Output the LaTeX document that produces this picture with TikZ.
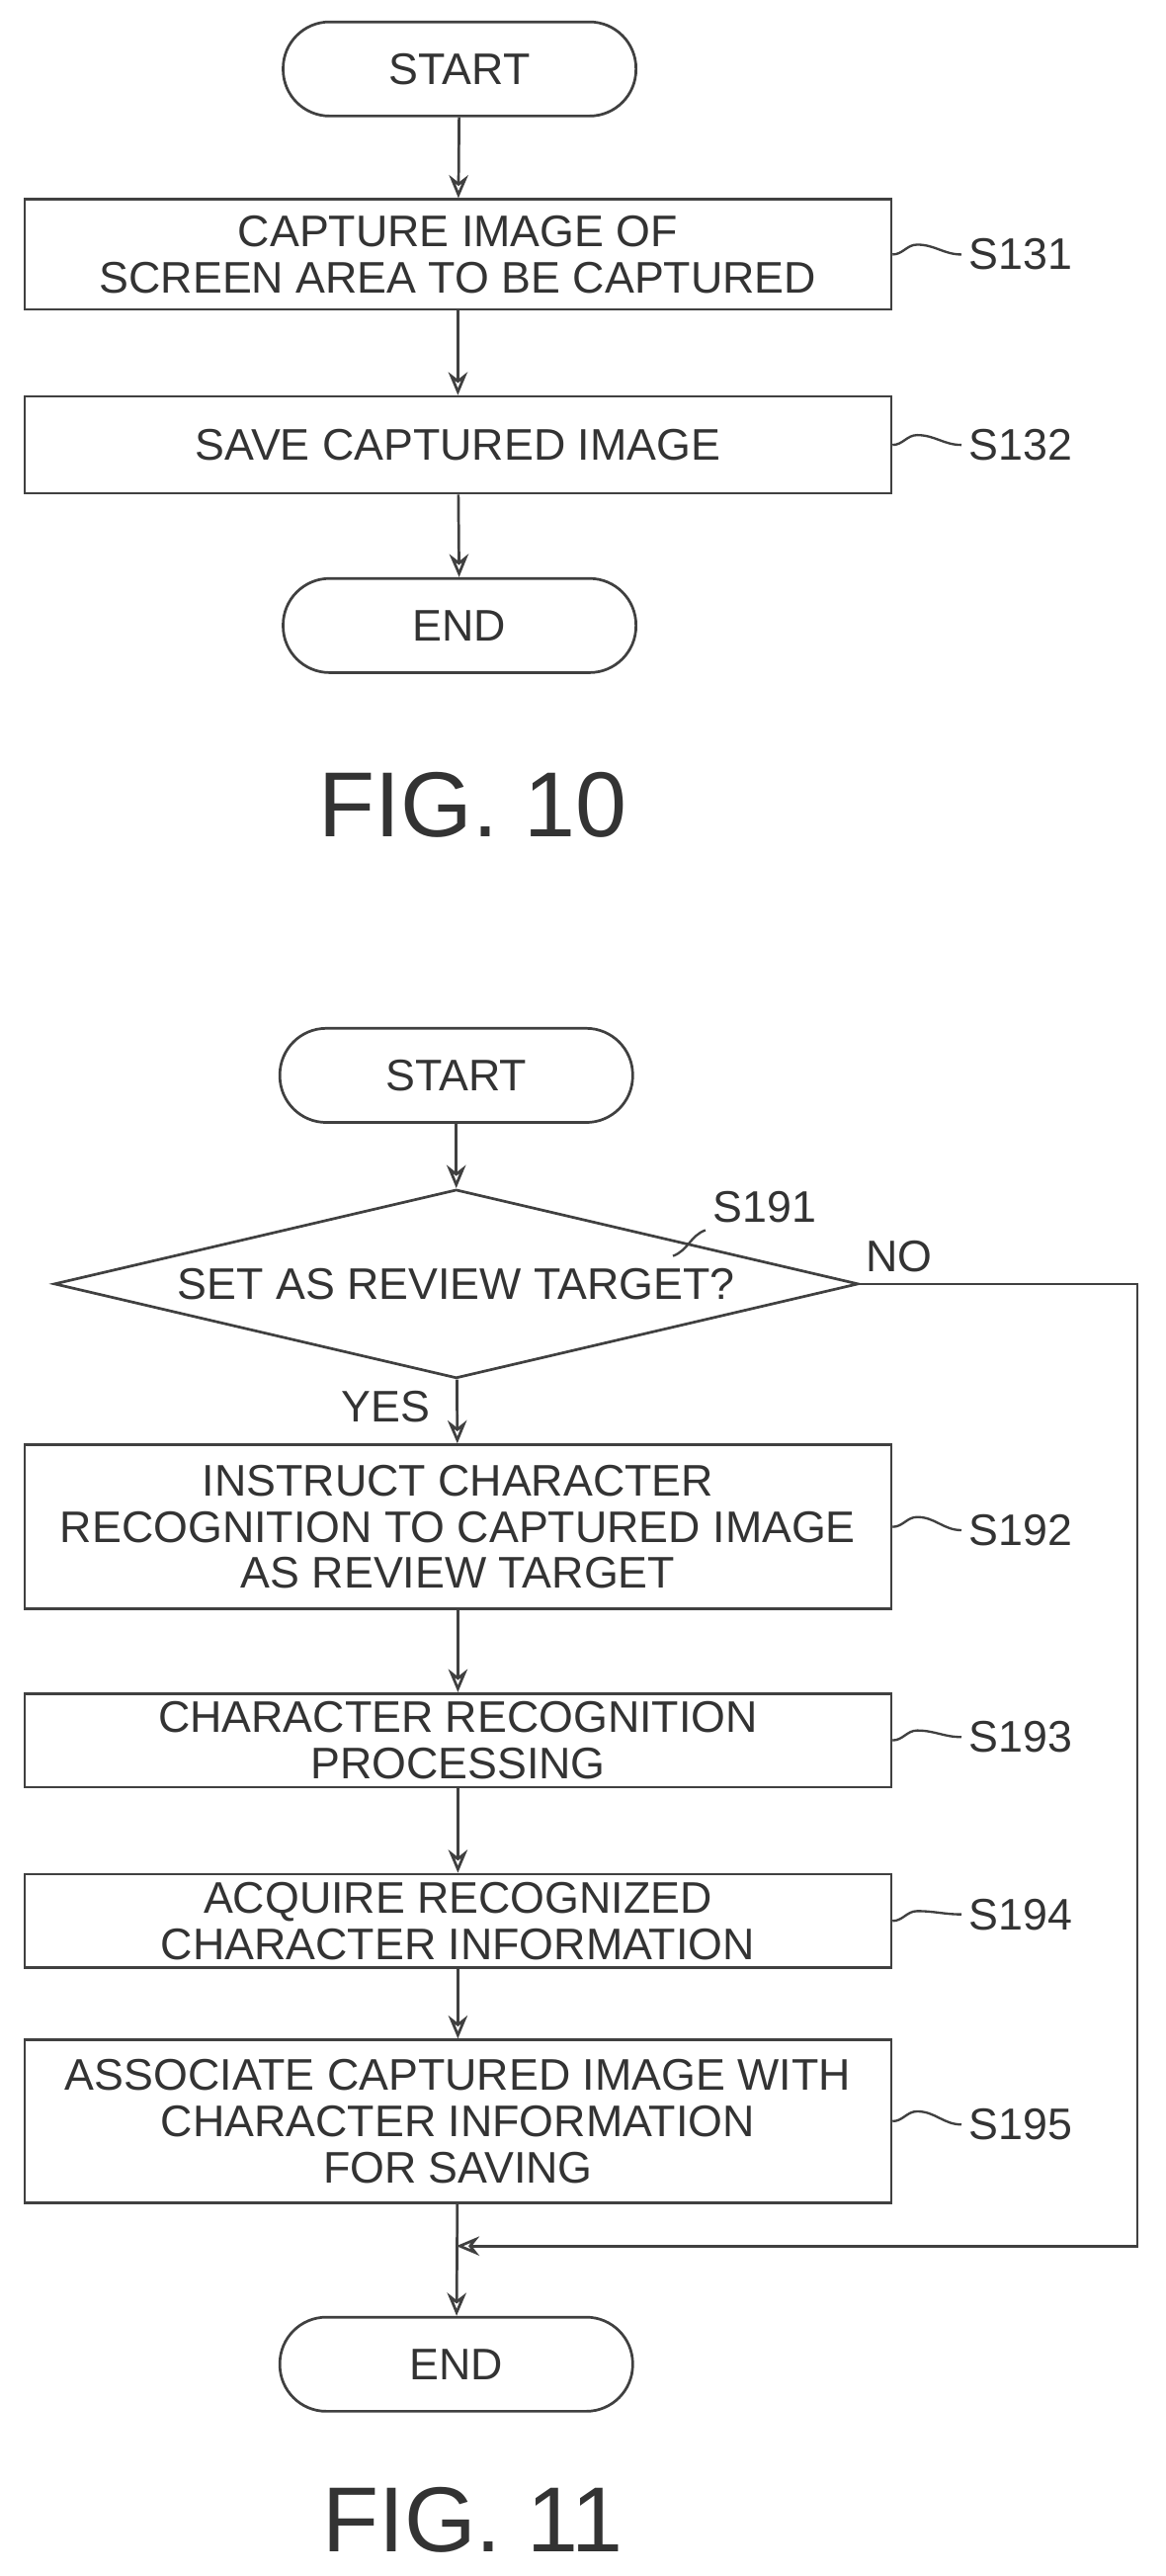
\documentclass[tikz,border=0pt]{standalone}
\usepackage{fontspec}
\setmainfont{Liberation Sans}
\usetikzlibrary{positioning}
\usetikzlibrary{shapes.geometric}
\usetikzlibrary{arrows.meta}

\begin{document}
\begin{tikzpicture}
    [ x=0.03cm, y=-0.03cm,
    line width=1.4pt, draw=black!75,
    every node/.style={font=\fontsize{23}{24}\selectfont, text=black!80},
    term/.style={draw, rounded corners=0.85cm, minimum width=6.45cm, minimum height=1.72cm},
    box/.style={draw, minimum width=15.84cm, align=center, inner sep=0pt},
    dec/.style={draw, diamond, aspect=4.26, minimum width=14.7cm, minimum height=3.45cm, inner sep=0pt},
    flow/.style={-{Stealth[length=12pt,width=10pt,open]}},
    lead/.style={line width=1.2pt},
    fig/.style={font=\fontsize{48}{50}\selectfont}
    ]

    \useasboundingbox (0,0) rectangle (710,1569);

    % FIG. 10
    \node[term] (s10) at (280,42) {START};
    \node[box, minimum height=2.01cm] (b131) at (279,155) {CAPTURE IMAGE OF\\SCREEN AREA TO BE CAPTURED};
    \node[box, minimum height=1.77cm] (b132) at (279,271) {SAVE CAPTURED IMAGE};
    \node[term] (e10) at (280,381) {END};
    \node[fig] (f10) at (288,490) {FIG. 10};

    \node (l131) at (622,155) {S131};
    \node (l132) at (622,271) {S132};

    \draw[flow] (s10) -- (b131);
    \draw[flow] (b131) -- (b132);
    \draw[flow] (b132) -- (e10);
    \draw[lead] (b131.east) to[out=0,in=180] ++(15,-6) to[out=0,in=180] (l131.west);
    \draw[lead] (b132.east) to[out=0,in=180] ++(15,-6) to[out=0,in=180] (l132.west);

    % FIG. 11
    \node[term] (s11) at (278,655) {START};
    \node[dec] (d191) at (278,782) {SET AS REVIEW TARGET?};
    \node[box, minimum height=3.0cm] (b192) at (279,930) {INSTRUCT CHARACTER\\RECOGNITION TO CAPTURED IMAGE\\AS REVIEW TARGET};
    \node[box, minimum height=1.71cm] (b193) at (279,1060) {CHARACTER RECOGNITION\\PROCESSING};
    \node[box, minimum height=1.71cm] (b194) at (279,1170) {ACQUIRE RECOGNIZED\\CHARACTER INFORMATION};
    \node[box, minimum height=2.97cm] (b195) at (279,1292) {ASSOCIATE CAPTURED IMAGE WITH\\CHARACTER INFORMATION\\FOR SAVING};
    \node[term] (e11) at (278,1440) {END};
    \node[fig] (f11) at (288,1535) {FIG. 11};

    \node (l191) at (466,735) {S191};
    \node (l192) at (622,932) {S192};
    \node (l193) at (622,1058) {S193};
    \node (l194) at (622,1166) {S194};
    \node (l195) at (622,1294) {S195};
    \node (no) at (548,765) {NO};
    \node (yes) at (235,857) {YES};

    \coordinate (j) at (278,1368);
    \coordinate (r) at (693,782);
    \coordinate (rb) at (693,1368);

    \draw[flow] (s11) -- (d191);
    \draw[flow] (d191) -- (b192);
    \draw[flow] (b192) -- (b193);
    \draw[flow] (b193) -- (b194);
    \draw[flow] (b194) -- (b195);
    \draw[flow] (b195) -- (e11);
    \draw[flow] (d191.east) -- (r) -- (rb) -- (j);

    \draw[lead] (410,765) to[out=20,in=200] (l191.south west);
    \draw[lead] (b192.east) to[out=0,in=180] ++(15,-6) to[out=0,in=180] (l192.west);
    \draw[lead] (b193.east) to[out=0,in=180] ++(15,-6) to[out=0,in=180] (l193.west);
    \draw[lead] (b194.east) to[out=0,in=180] ++(15,-6) to[out=0,in=180] (l194.west);
    \draw[lead] (b195.east) to[out=0,in=180] ++(15,-6) to[out=0,in=180] (l195.west);
  \end{tikzpicture}
\end{document}
